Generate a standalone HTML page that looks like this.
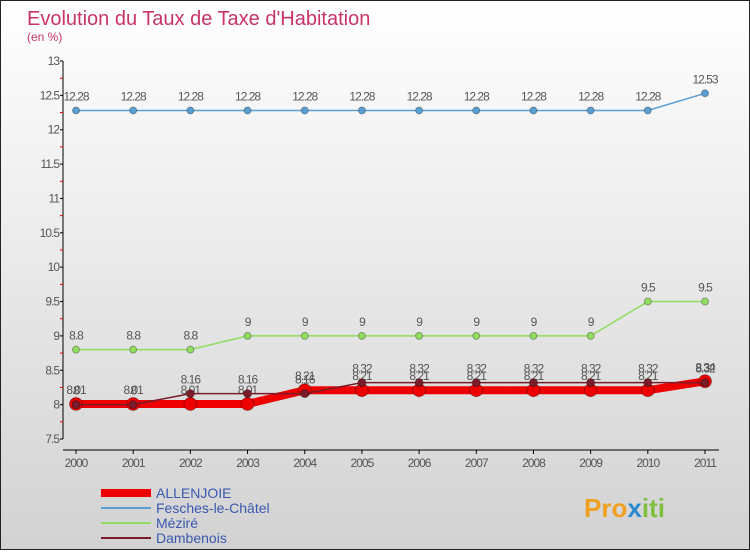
<!DOCTYPE html>
<html><head><meta charset="utf-8"><style>
body{margin:0;width:750px;height:550px;overflow:hidden;font-family:"Liberation Sans",sans-serif}
#wrap{position:relative;width:748px;height:548px;border:1px solid #222;background:linear-gradient(#ffffff,#d2d2d2)}
</style></head><body>
<div id="wrap">
<svg id="chart" width="748" height="548" xmlns="http://www.w3.org/2000/svg">
<text x="26" y="24" font-size="20" fill="#c8336a">Evolution du Taux de Taxe d'Habitation</text>
<text x="26" y="40" font-size="12" fill="#c8336a">(en %)</text>
<g id="axes"></g><g id="series"></g><g id="legend"></g>
<text x="583" y="516" font-size="26" font-weight="bold"><tspan fill="#f0a020">Pro</tspan><tspan fill="#2a8ad0">x</tspan><tspan fill="#80c040">iti</tspan></text>
</svg></div>
<script>
const years=[2000,2001,2002,2003,2004,2005,2006,2007,2008,2009,2010,2011];
const yTicks=[7.5,8,8.5,9,9.5,10,10.5,11,11.5,12,12.5,13];
const allenjoie=[8.01,8.01,8.01,8.01,8.21,8.21,8.21,8.21,8.21,8.21,8.21,8.34];
const fesches=[12.28,12.28,12.28,12.28,12.28,12.28,12.28,12.28,12.28,12.28,12.28,12.53];
const mezire=[8.8,8.8,8.8,9,9,9,9,9,9,9,9.5,9.5];
const dambenois=[8,8,8.16,8.16,8.16,8.32,8.32,8.32,8.32,8.32,8.32,8.32];
const seriesNames=["ALLENJOIE","Fesches-le-Châtel","Méziré","Dambenois"];
const NS="http://www.w3.org/2000/svg";
const X=i=>75+i*(704-75)/11;
const Y=v=>438-(v-7.5)*(378/5.5);
function mk(tag,attrs,parent,text){const e=document.createElementNS(NS,tag);for(const k in attrs)e.setAttribute(k,attrs[k]);if(text!==undefined)e.textContent=text;parent.appendChild(e);return e;}
const axes=document.getElementById('axes');
let yl=mk('line',{x1:62,y1:60,x2:62,y2:438,stroke:'#000'},axes);


yTicks.forEach((t,i)=>{
 mk('line',{x1:59,y1:Y(t),x2:62,y2:Y(t),stroke:'#000'},axes);
 if(i<yTicks.length-1){mk('line',{x1:59,y1:Y(t+0.25),x2:62,y2:Y(t+0.25),stroke:'#e00'},axes);}
 let tx=mk('text',{x:58,y:Y(t)+4,'font-size':12,fill:'#555','text-anchor':'end','letter-spacing':'-1'},axes,String(t));
 
 
});
let xl=mk('line',{x1:62,y1:449,x2:718,y2:449,stroke:'#000'},axes);


years.forEach((y,i)=>{
 mk('line',{x1:X(i),y1:449,x2:X(i),y2:453,stroke:'#000'},axes);
 let tx=mk('text',{x:X(i),y:466,'font-size':12,fill:'#555','text-anchor':'middle','letter-spacing':'-1'},axes,String(y));
 
 
});
const sg=document.getElementById('series');
function draw(data,name,color,width,r,labelDy){
 const g=mk('g',{},sg);
 
 
 mk('polyline',{points:data.map((v,i)=>X(i)+','+Y(v)).join(' '),fill:'none',stroke:color,'stroke-width':width},g);
 data.forEach((v,i)=>{
  let c=mk('circle',{cx:X(i),cy:Y(v),r:r,fill:color,stroke:'rgba(0,0,0,0.3)'},g);
  
  
  mk('text',{x:X(i),y:Y(v)+labelDy,'font-size':12,fill:'#555','text-anchor':'middle','letter-spacing':'-1'},g,String(v));
 });
}
draw(fesches,'fesches','#5a9fd4',1.5,3.5,-10);
draw(mezire,'mezire','#90dd60',1.5,3.5,-10);
draw(allenjoie,'allenjoie','#ee0000',8,6.5,-10);
draw(dambenois,'dambenois','#7a1c2a',1.5,4,-10);
const lg=document.getElementById('legend');
const cols=['#ee0000','#5a9fd4','#90dd60','#7a1c2a'];const ws=[8,2,2,2];
seriesNames.forEach((n,i)=>{
 const g=mk('g',{},lg);
 
 
 const yy=492+i*15;
 mk('line',{x1:100,y1:yy,x2:150,y2:yy,stroke:cols[i],'stroke-width':ws[i]},g);
 mk('text',{x:155,y:yy+5,'font-size':14,fill:'#3b58b0'},g,n);
});
</script>
</body></html>
